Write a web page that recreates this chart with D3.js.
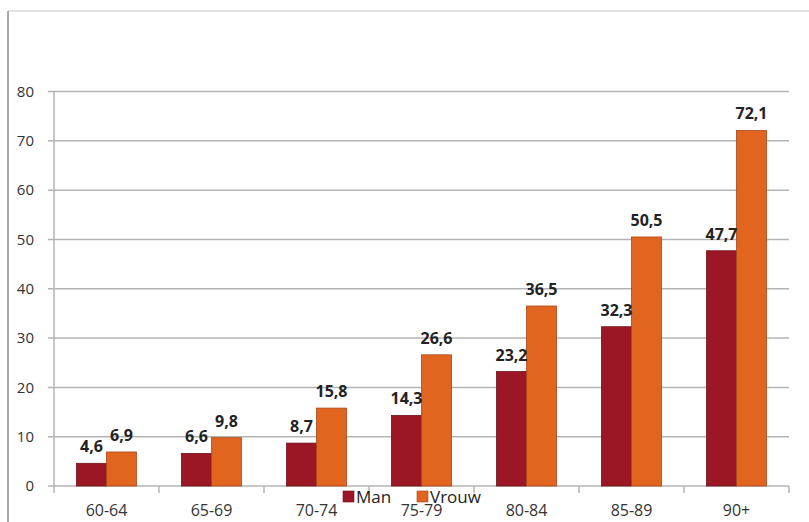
<!DOCTYPE html>
<html>
<head>
<meta charset="utf-8">
<script src="https://cdn.jsdelivr.net/npm/d3@7"></script>
<style>
  html, body { margin: 0; padding: 0; background: #fff; }
  svg { display: block; }
  text { font-family: "Open Sans", "DejaVu Sans", sans-serif; }
</style>
</head>
<body>
<svg id="chart" width="809" height="522"></svg>
<script>
// Age groups and percentages per sex
const categories = ["60-64", "65-69", "70-74", "75-79", "80-84", "85-89", "90+"];
const seriesNames = ["Man", "Vrouw"];
const manValues = [4.6, 6.6, 8.7, 14.3, 23.2, 32.3, 47.7];
const vrouwValues = [6.9, 9.8, 15.8, 26.6, 36.5, 50.5, 72.1];
const yTicks = [0, 10, 20, 30, 40, 50, 60, 70, 80];

const colors = { Man: "#9b1726", Vrouw: "#e1651f" };
const strokes = { Man: "#6e1119", Vrouw: "#a9481a" };

const svg = d3.select("#chart");
const W = 809, H = 522;
const plot = { left: 54, right: 789, top: 91.5, bottom: 486 };

// outer frame lines
svg.append("line").attr("x1", 8).attr("x2", W).attr("y1", 11).attr("y2", 11)
  .attr("stroke", "#e3e3e3").attr("stroke-width", 2);
svg.append("line").attr("x1", 8).attr("x2", 8).attr("y1", 11).attr("y2", H)
  .attr("stroke", "#a8a8a8").attr("stroke-width", 2);

const x = d3.scaleBand().domain(categories).range([plot.left, plot.right]);
const xInner = d3.scaleBand().domain(seriesNames)
  .range([0, 60]).paddingInner(0);
const y = d3.scaleLinear().domain([0, 80]).range([plot.bottom, plot.top]);

// horizontal gridlines
svg.append("g").selectAll("line").data(yTicks).join("line")
  .attr("x1", 48).attr("x2", plot.right)
  .attr("y1", d => y(d)).attr("y2", d => y(d))
  .attr("stroke", "#b4b4b4").attr("stroke-width", 1.5);

// y axis line
svg.append("line").attr("x1", plot.left).attr("x2", plot.left)
  .attr("y1", plot.top).attr("y2", plot.bottom)
  .attr("stroke", "#b4b4b4").attr("stroke-width", 1.5);

// y tick labels
svg.append("g").selectAll("text").data(yTicks).join("text")
  .attr("x", 34).attr("y", d => y(d)).attr("dy", "0.35em")
  .attr("text-anchor", "end").attr("font-size", 15).attr("fill", "#333")
  .text(d => d);

// x tick marks on band boundaries
const boundaries = categories.map(c => x(c)).concat([x(categories[categories.length - 1]) + x.bandwidth()]);
svg.append("g").selectAll("line").data(boundaries).join("line")
  .attr("x1", d => d).attr("x2", d => d)
  .attr("y1", plot.bottom).attr("y2", plot.bottom + 7)
  .attr("stroke", "#b4b4b4").attr("stroke-width", 1.5);

// bars
const rows = categories.map((c, i) => ({ cat: c, Man: manValues[i], Vrouw: vrouwValues[i] }));
const groups = svg.append("g").selectAll("g").data(rows).join("g")
  .attr("transform", d => `translate(${x(d.cat) + x.bandwidth() / 2 - 30},0)`);

groups.selectAll("rect").data(d => seriesNames.map(s => ({ s, v: d[s] }))).join("rect")
  .attr("x", d => xInner(d.s))
  .attr("width", xInner.bandwidth())
  .attr("y", d => y(d.v))
  .attr("height", d => y(0) - y(d.v))
  .attr("fill", d => colors[d.s])
  .attr("stroke", d => strokes[d.s]).attr("stroke-width", 0.8);

// value labels
const fmt = v => String(v).replace(".", ",");
groups.selectAll("text").data(d => seriesNames.map(s => ({ s, v: d[s] }))).join("text")
  .attr("x", d => xInner(d.s) + xInner.bandwidth() / 2)
  .attr("y", d => y(d.v) - 11)
  .attr("text-anchor", "middle").attr("font-size", 16).attr("font-weight", "bold")
  .attr("fill", "#222")
  .text(d => fmt(d.v));

// category labels
svg.append("g").selectAll("text").data(categories).join("text")
  .attr("x", d => x(d) + x.bandwidth() / 2).attr("y", 516)
  .attr("text-anchor", "middle").attr("font-size", 16).attr("fill", "#333")
  .text(d => d);

// legend
const legend = svg.append("g");
const legendItems = [{ s: "Man", x: 343 }, { s: "Vrouw", x: 417 }];
legendItems.forEach(it => {
  legend.append("rect").attr("x", it.x).attr("y", 491).attr("width", 11).attr("height", 11)
    .attr("fill", colors[it.s]).attr("stroke", strokes[it.s]).attr("stroke-width", 0.6);
  legend.append("text").attr("x", it.x + 13).attr("y", 503)
    .attr("font-size", 17).attr("fill", "#222").text(it.s);
});
</script>
</body>
</html>
